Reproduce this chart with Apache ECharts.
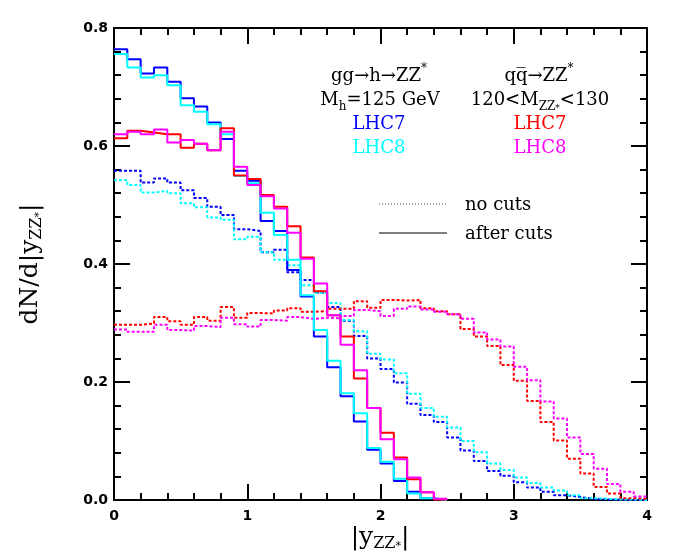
<!DOCTYPE html>
<html>
<head>
<meta charset="utf-8">
<script src="https://cdn.jsdelivr.net/npm/echarts@6/dist/echarts.min.js"></script>
<style>
html, body { margin: 0; padding: 0; background: #fff; }
#chart { width: 681px; height: 556px; }
</style>
</head>
<body>
<div id="chart"></div>
<script>
// bin edges in |y_ZZ*| (bin width 0.1)
const binEdges = [0, 0.1, 0.2, 0.3, 0.4, 0.5, 0.6, 0.7, 0.8, 0.9,
  1.0, 1.1, 1.2, 1.3, 1.4, 1.5, 1.6, 1.7, 1.8, 1.9,
  2.0, 2.1, 2.2, 2.3, 2.4, 2.5, 2.6, 2.7, 2.8, 2.9,
  3.0, 3.1, 3.2, 3.3, 3.4, 3.5, 3.6, 3.7, 3.8, 3.9, 4.0]

const xTicks = [0, 1, 2, 3, 4]
const yTicks = [0, 0.2, 0.4, 0.6, 0.8]

// gg -> h -> ZZ*, after cuts
const ggh7Cuts = [0.764, 0.747, 0.723, 0.733, 0.709, 0.681, 0.667, 0.640, 0.612, 0.558,
  0.541, 0.473, 0.456, 0.390, 0.345, 0.277, 0.225, 0.176, 0.133, 0.085,
  0.062, 0.032, 0.014, 0.003, 0.0]
const ggh8Cuts = [0.756, 0.733, 0.716, 0.720, 0.703, 0.669, 0.658, 0.637, 0.620, 0.549,
  0.537, 0.487, 0.449, 0.407, 0.347, 0.288, 0.236, 0.181, 0.147, 0.088,
  0.065, 0.036, 0.011, 0.003, 0.0]
// qqbar -> ZZ*, after cuts
const qq7Cuts = [0.613, 0.626, 0.623, 0.620, 0.620, 0.597, 0.604, 0.593, 0.630, 0.550,
  0.544, 0.517, 0.497, 0.464, 0.411, 0.354, 0.313, 0.277, 0.206, 0.156,
  0.114, 0.072, 0.035, 0.013, 0.001]
const qq8Cuts = [0.620, 0.624, 0.620, 0.628, 0.606, 0.610, 0.604, 0.593, 0.624, 0.565,
  0.534, 0.515, 0.494, 0.453, 0.409, 0.367, 0.313, 0.263, 0.220, 0.156,
  0.103, 0.069, 0.038, 0.013, 0.002]

// no cuts
const ggh7All = [0.558, 0.558, 0.538, 0.545, 0.538, 0.525, 0.512, 0.497, 0.483, 0.459,
  0.456, 0.420, 0.424, 0.386, 0.373, 0.351, 0.327, 0.304, 0.278, 0.240,
  0.222, 0.199, 0.163, 0.144, 0.132, 0.106, 0.084, 0.066, 0.049, 0.041,
  0.030, 0.021, 0.014, 0.008, 0.005, 0.002, 0.001, 0.001, 0.0, 0.0]
const ggh8All = [0.542, 0.534, 0.521, 0.524, 0.520, 0.503, 0.496, 0.479, 0.475, 0.442,
  0.446, 0.420, 0.407, 0.398, 0.364, 0.351, 0.334, 0.305, 0.286, 0.248,
  0.238, 0.215, 0.180, 0.156, 0.141, 0.123, 0.100, 0.081, 0.062, 0.051,
  0.038, 0.029, 0.021, 0.016, 0.008, 0.003, 0.002, 0.001, 0.001, 0.0]
const qq7All = [0.297, 0.297, 0.299, 0.310, 0.303, 0.297, 0.310, 0.304, 0.327, 0.309,
  0.317, 0.316, 0.321, 0.325, 0.319, 0.320, 0.324, 0.324, 0.337, 0.326,
  0.339, 0.338, 0.339, 0.325, 0.320, 0.315, 0.290, 0.277, 0.261, 0.229,
  0.202, 0.168, 0.132, 0.101, 0.070, 0.045, 0.022, 0.011, 0.003, 0.002]
const qq8All = [0.289, 0.285, 0.285, 0.297, 0.288, 0.287, 0.295, 0.293, 0.309, 0.298,
  0.294, 0.305, 0.304, 0.310, 0.307, 0.309, 0.308, 0.312, 0.322, 0.320,
  0.312, 0.324, 0.328, 0.323, 0.319, 0.315, 0.307, 0.284, 0.272, 0.260,
  0.226, 0.203, 0.167, 0.138, 0.106, 0.078, 0.053, 0.027, 0.014, 0.006]

const serif = 'DejaVu Serif'
const chart = echarts.init(document.getElementById('chart'))

// histogram outline: one point per bin edge, step drawn at the right edge
function hist(vals) {
  const pts = vals.map((v, i) => [binEdges[i], v])
  pts.push([binEdges[vals.length], vals[vals.length - 1]])
  return pts
}

function line(name, vals, color, dotted) {
  return {
    name,
    type: 'line',
    step: 'end',
    data: hist(vals),
    showSymbol: false,
    animation: false,
    lineStyle: { color, width: 2, type: dotted ? [3, 2] : 'solid' },
    z: dotted ? 2 : 3
  }
}

const axisCommon = {
  type: 'value',
  axisLine: { onZero: false, lineStyle: { color: '#000', width: 2 } },
  axisTick: { inside: true, length: 16, lineStyle: { color: '#000', width: 2 } },
  minorTick: { show: true, splitNumber: 5, length: 7, lineStyle: { color: '#000', width: 2 } },
  splitLine: { show: false },
  minorSplitLine: { show: false }
}
const tickFont = { color: '#000', fontWeight: 'bold', fontSize: 14, fontFamily: 'DejaVu Sans' }

const mainTxt = { fontFamily: serif, fontSize: 18, lineHeight: 26, color: '#000' }
const subTxt = { fontFamily: serif, fontSize: 12, lineHeight: 12, verticalAlign: 'bottom', color: '#000' }
const supTxt = { fontFamily: serif, fontSize: 12, lineHeight: 12, verticalAlign: 'top', color: '#000' }
const tinyTxt = { fontFamily: serif, fontSize: 9, lineHeight: 9, verticalAlign: 'bottom', color: '#000' }

function label(x, y, text, opts) {
  return {
    type: 'text',
    x, y,
    rotation: (opts && opts.rotation) || 0,
    style: Object.assign({
      text,
      align: 'center',
      verticalAlign: 'middle',
      textAlign: 'center',
      textVerticalAlign: 'middle',
      fill: '#000',
      font: '18px "DejaVu Serif"',
      rich: { m: mainTxt, s: subTxt, p: supTxt, t: tinyTxt }
    }, opts && opts.style)
  }
}

const titleRich = {
  a: { fontFamily: serif, fontSize: 25, lineHeight: 30, color: '#000' },
  b: { fontFamily: serif, fontSize: 16, lineHeight: 16, verticalAlign: 'bottom', color: '#000' },
  c: { fontFamily: serif, fontSize: 11, lineHeight: 24, verticalAlign: 'bottom', color: '#000' }
}

const option = {
  backgroundColor: '#fff',
  animation: false,
  grid: { left: 114, right: 34, top: 28, bottom: 56 },
  xAxis: [
    Object.assign({}, axisCommon, {
      min: xTicks[0], max: xTicks[xTicks.length - 1], interval: 1,
      axisLabel: Object.assign({ margin: 9, formatter: v => String(v) }, tickFont)
    }),
    Object.assign({}, axisCommon, {
      position: 'top',
      min: xTicks[0], max: xTicks[xTicks.length - 1], interval: 1,
      axisLabel: { show: false }
    })
  ],
  yAxis: [
    Object.assign({}, axisCommon, {
      min: yTicks[0], max: yTicks[yTicks.length - 1], interval: 0.2,
      axisLabel: Object.assign({ margin: 6, formatter: v => v.toFixed(1) }, tickFont)
    }),
    Object.assign({}, axisCommon, {
      position: 'right',
      min: yTicks[0], max: yTicks[yTicks.length - 1], interval: 0.2,
      axisLabel: { show: false }
    })
  ],
  series: [
    line('gg LHC7 no cuts', ggh7All, '#0000ff', true),
    line('gg LHC8 no cuts', ggh8All, '#00ffff', true),
    line('qq LHC7 no cuts', qq7All, '#ff0000', true),
    line('qq LHC8 no cuts', qq8All, '#ff00ff', true),
    line('gg LHC7 cuts', ggh7Cuts, '#0000ff', false),
    line('gg LHC8 cuts', ggh8Cuts, '#00ffff', false),
    line('qq LHC7 cuts', qq7Cuts, '#ff0000', false),
    line('qq LHC8 cuts', qq8Cuts, '#ff00ff', false)
  ],
  graphic: [
    // legend block
    label(379, 76, '{m|gg→h→ZZ}{p|*}'),
    label(380, 100, '{m|M}{s|h}{m|=125 GeV}'),
    label(379, 124, 'LHC7', { style: { fill: '#0000ff' } }),
    label(379, 148, 'LHC8', { style: { fill: '#00ffff' } }),
    label(539, 76, '{m|qq\u0305→ZZ}{p|*}'),
    label(540, 100, '{m|120<M}{s|ZZ}{t|*}{m|<130}'),
    label(540, 124, 'LHC7', { style: { fill: '#ff0000' } }),
    label(540, 148, 'LHC8', { style: { fill: '#ff00ff' } }),
    {
      type: 'line',
      shape: { x1: 379, y1: 204, x2: 447, y2: 204 },
      style: { stroke: '#555', lineWidth: 1, lineDash: [1, 2] }
    },
    {
      type: 'line',
      shape: { x1: 379, y1: 233, x2: 447, y2: 233 },
      style: { stroke: '#000', lineWidth: 1 }
    },
    label(465, 205, 'no cuts', { style: { align: 'left', textAlign: 'left' } }),
    label(465, 234, 'after cuts', { style: { align: 'left', textAlign: 'left' } }),
    // axis titles
    label(380, 537, '{a||y}{b|ZZ}{c|*}{a||}', { style: { rich: titleRich } }),
    label(30, 264, '{a|dN/d|y}{b|ZZ}{c|*}{a||}', {
      rotation: Math.PI / 2,
      style: { rich: titleRich }
    })
  ]
}

chart.setOption(option)
</script>
</body>
</html>
